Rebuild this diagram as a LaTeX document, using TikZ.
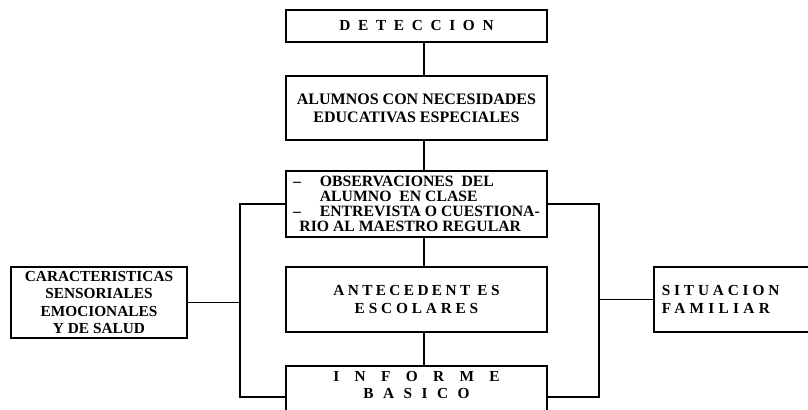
\documentclass[tikz,border=0pt]{standalone}
\usepackage{fontspec}
\setmainfont{Liberation Serif}
\usetikzlibrary{positioning}

% letter spaced capitals
\newcommand{\spc}[2]{{\addfontfeature{LetterSpace=#1}#2}}

\begin{document}
\begin{tikzpicture}[x=0.75pt, y=-0.75pt,
  box/.style={draw, line width=1.2pt, minimum width=195.75pt, align=center, font=\bfseries\fontsize{11.5}{13}\selectfont, inner sep=2pt},
  lnk/.style={line width=1.2pt}
]
  \useasboundingbox (0,0) rectangle (808,410);
  \clip (0,0) rectangle (808,410);

  % ----- Columna central -----
  \node[box, minimum height=24pt] (det) at (416.5,26) {\spc{50}{DETECCION}};
  \node[box, minimum height=48pt, font=\bfseries\fontsize{12}{13.5}\selectfont] (alu) at (416.5,108) {ALUMNOS CON NECESIDADES\\EDUCATIVAS ESPECIALES};
  \node[box, minimum height=49.5pt, align=left, inner ysep=1pt, font=\bfseries\fontsize{11.8}{11.4}\selectfont] (obs) at (416.5,204)
    {\makebox[1.7em][l]{--}OBSERVACIONES\enspace DEL\\
     \hspace*{1.7em}ALUMNO\enspace EN CLASE\\
     \makebox[1.7em][l]{--}ENTREVISTA O CUESTIONA-\\
     \hspace*{0.4em}RIO AL MAESTRO REGULAR};
  \node[box, minimum height=48.75pt] (ant) at (416.5,299.5) {\spc{22}{ANTECEDENT ES}\\\spc{25}{ESCOLARES}};
  \node[box, anchor=north, text depth=40pt, inner ysep=4pt] (inf) at (416.5,365) {\spc{100}{INFORME}\\\spc{62}{BASICO}};

  % ----- Laterales -----
  \node[box, minimum width=132pt, minimum height=53.25pt, inner ysep=1pt, font=\bfseries\fontsize{11.5}{13}\selectfont] (car) at (99,302.5)
    {CARACTERISTICAS\\SENSORIALES\\EMOCIONALES\\Y DE SALUD};
  \node[box, anchor=west, minimum width=0pt, text width=140pt, minimum height=48.75pt, align=left, inner xsep=6pt] (sit) at (653,299.5)
    {\spc{25}{SITUACION}\\\spc{28}{FAMILIAR}};

  \coordinate (ldn) at (240,397);
  \coordinate (rdn) at (599,397);

  % ----- Conexiones -----
  \draw[lnk] ([xshift=5.6pt]det.south) -- ([xshift=5.6pt]alu.north);
  \draw[lnk] ([xshift=5.6pt]alu.south) -- ([xshift=5.6pt]obs.north);
  \draw[lnk] ([xshift=5.6pt]obs.south) -- ([xshift=5.6pt]ant.north);
  \draw[lnk] ([xshift=5.6pt]ant.south) -- ([xshift=5.6pt]inf.north);
  \draw[lnk] (obs.west) -| (ldn) -- (ldn -| inf.west);
  \draw[lnk] (obs.east) -| (rdn) -- (rdn -| inf.east);
  \draw[lnk] (car.east) -- (car.east -| ldn);
  \draw[lnk] (sit.west) -- (sit.west -| rdn);
\end{tikzpicture}
\end{document}
